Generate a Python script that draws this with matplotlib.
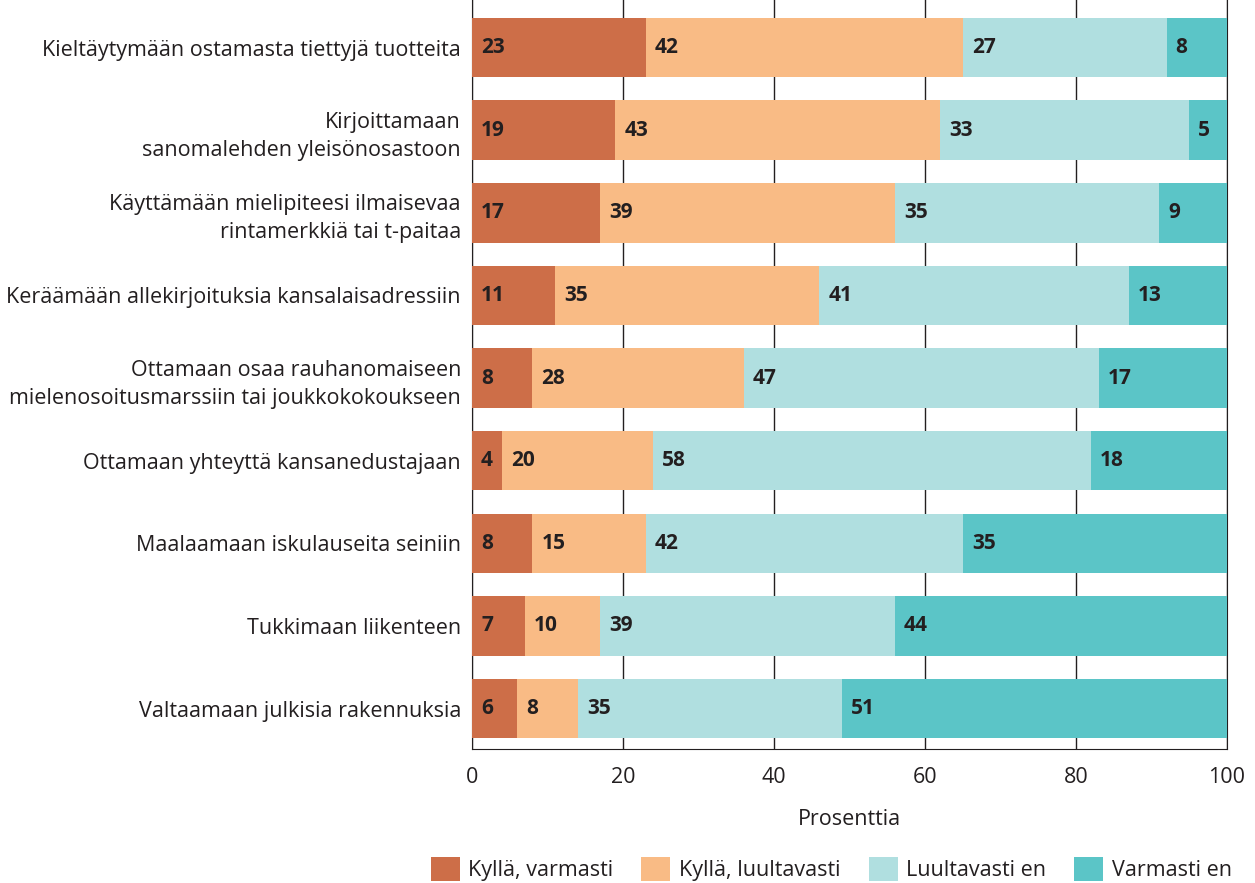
import matplotlib.pyplot as plt
import numpy as np

plt.rcParams['font.family'] = ['Open Sans', 'DejaVu Sans']

categories = [
    "Kieltäytymään ostamasta tiettyjä tuotteita",
    "Kirjoittamaan\nsanomalehden yleisönosastoon",
    "Käyttämään mielipiteesi ilmaisevaa\nrintamerkkiä tai t-paitaa",
    "Keräämään allekirjoituksia kansalaisadressiin",
    "Ottamaan osaa rauhanomaiseen\nmielenosoitusmarssiin tai joukkokokoukseen",
    "Ottamaan yhteyttä kansanedustajaan",
    "Maalaamaan iskulauseita seiniin",
    "Tukkimaan liikenteen",
    "Valtaamaan julkisia rakennuksia",
]
kylla_varmasti = [23, 19, 17, 11, 8, 4, 8, 7, 6]
kylla_luultavasti = [42, 43, 39, 35, 28, 20, 15, 10, 8]
luultavasti_en = [27, 33, 35, 41, 47, 58, 42, 39, 35]
varmasti_en = [8, 5, 9, 13, 17, 18, 35, 44, 51]
series_names = ["Kyllä, varmasti", "Kyllä, luultavasti", "Luultavasti en", "Varmasti en"]
colors = ["#CD6E48", "#F9BB85", "#B0DFE0", "#5BC5C7"]
ink = '#231F20'

fig = plt.figure(figsize=(12.55, 8.83), dpi=100)
ax = fig.add_axes([472 / 1255, 1 - 749 / 883, (1227 - 472) / 1255, 749 / 883])

y = np.arange(len(categories))
left = np.zeros(len(categories))
for vals, name, col in zip([kylla_varmasti, kylla_luultavasti, luultavasti_en, varmasti_en],
                           series_names, colors):
    vals = np.array(vals)
    ax.barh(y, vals, left=left, height=0.72, color=col, label=name, zorder=3)
    for yi, l, v in zip(y, left, vals):
        ax.text(l + 1.2, yi, str(v), va='center', ha='left', fontsize=15,
                fontweight='bold', color=ink, zorder=4)
    left += vals

ax.set_xlim(0, 100)
ax.set_ylim(8.49, -0.575)
ax.set_xticks([0, 20, 40, 60, 80, 100])
ax.tick_params(axis='x', length=0, labelsize=15.5, pad=13, colors=ink)
ax.set_yticks(y)
ax.set_yticklabels(categories, fontsize=15.5, color=ink, linespacing=1.45)
ax.tick_params(axis='y', length=0, pad=8)
ax.grid(axis='x', color=ink, linewidth=1, zorder=1)
ax.spines['top'].set_visible(False)
for s in ['left', 'right', 'bottom']:
    ax.spines[s].set_color(ink)
ax.set_xlabel("Prosenttia", fontsize=15.5, color=ink, labelpad=15)

fig.legend(loc='lower right', bbox_to_anchor=(0.997, -0.02), ncol=4, frameon=False,
           fontsize=15.5, handlelength=1.35, handleheight=1.3, columnspacing=1.3,
           handletextpad=0.4, labelcolor=ink)

fig.savefig("out.png", dpi=100)
